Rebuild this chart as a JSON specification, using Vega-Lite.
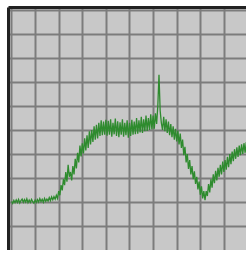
{
  "$schema": "https://vega.github.io/schema/vega-lite/v6.json",
  "autosize": {"type": "none"},
  "padding": {"left": 8, "top": 7, "right": 0, "bottom": 0},
  "width": 241,
  "height": 243,
  "background": "#ffffff",
  "config": {"view": {"fill": "#c8c8c8", "stroke": null}},
  "data": {"values": [
    {"x":0,"y":20.2},{"x":0.5,"y":19.4},{"x":1,"y":20.7},{"x":1.5,"y":19.7},{"x":2,"y":20.9},{"x":2.5,"y":19.8},{"x":3,"y":21.1},{"x":3.5,"y":19.6},{"x":4,"y":20.6},{"x":4.5,"y":21.2},
    {"x":5,"y":19.9},{"x":5.5,"y":21.0},{"x":6,"y":20.0},{"x":6.5,"y":21.3},{"x":7,"y":19.7},{"x":7.5,"y":20.8},{"x":8,"y":19.8},{"x":8.5,"y":21.1},{"x":9,"y":20.1},{"x":9.5,"y":19.5},
    {"x":10,"y":20.8},{"x":10.5,"y":19.8},{"x":11,"y":21.0},{"x":11.5,"y":20.0},{"x":12,"y":21.4},{"x":12.5,"y":20.2},{"x":13,"y":21.1},{"x":13.5,"y":19.9},{"x":14,"y":21.5},{"x":14.5,"y":20.3},
    {"x":15,"y":21.2},{"x":15.5,"y":20.4},{"x":16,"y":21.8},{"x":16.5,"y":20.6},{"x":17,"y":22.1},{"x":17.5,"y":20.9},{"x":18,"y":22.2},{"x":18.5,"y":21.2},{"x":19,"y":22.8},{"x":19.5,"y":21.5},
    {"x":20,"y":24.5},{"x":20.5,"y":22.8},{"x":21,"y":27.0},{"x":21.5,"y":24.8},{"x":22,"y":29.5},{"x":22.5,"y":27.0},{"x":23,"y":32.5},{"x":23.5,"y":28.5},{"x":24,"y":35.5},{"x":24.5,"y":30.5},
    {"x":25,"y":32.5},{"x":25.5,"y":29.0},{"x":26,"y":35.0},{"x":26.5,"y":31.5},{"x":27,"y":38.0},{"x":27.5,"y":34.0},{"x":28,"y":40.5},{"x":28.5,"y":36.5},{"x":29,"y":43.5},{"x":29.5,"y":39.0},
    {"x":30,"y":44.5},{"x":30.5,"y":40.2},{"x":31,"y":46.5},{"x":31.5,"y":41.5},{"x":32,"y":47.8},{"x":32.5,"y":42.5},{"x":33,"y":49.5},{"x":33.5,"y":44.0},{"x":34,"y":50.0},{"x":34.5,"y":45.0},
    {"x":35,"y":51.5},{"x":35.5,"y":46.0},{"x":36,"y":52.2},{"x":36.5,"y":46.5},{"x":37,"y":53.0},{"x":37.5,"y":47.5},{"x":38,"y":54.0},{"x":38.5,"y":47.8},{"x":39,"y":53.5},{"x":39.5,"y":48.0},
    {"x":40,"y":54.2},{"x":40.5,"y":47.6},{"x":41,"y":53.8},{"x":41.5,"y":48.0},{"x":42,"y":54.5},{"x":42.5,"y":47.2},{"x":43,"y":53.0},{"x":43.5,"y":48.2},{"x":44,"y":54.8},{"x":44.5,"y":47.5},
    {"x":45,"y":53.6},{"x":45.5,"y":47.0},{"x":46,"y":53.2},{"x":46.5,"y":48.0},{"x":47,"y":54.5},{"x":47.5,"y":47.2},{"x":48,"y":53.0},{"x":48.5,"y":47.8},{"x":49,"y":54.0},{"x":49.5,"y":46.8},
    {"x":50,"y":53.0},{"x":50.5,"y":47.5},{"x":51,"y":54.2},{"x":51.5,"y":48.0},{"x":52,"y":53.5},{"x":52.5,"y":48.3},{"x":53,"y":55.0},{"x":53.5,"y":48.5},{"x":54,"y":54.0},{"x":54.5,"y":49.0},
    {"x":55,"y":55.5},{"x":55.5,"y":48.8},{"x":56,"y":54.5},{"x":56.5,"y":49.5},{"x":57,"y":56.0},{"x":57.5,"y":49.6},{"x":58,"y":55.0},{"x":58.5,"y":50.0},{"x":59,"y":56.5},{"x":59.5,"y":50.2},
    {"x":60,"y":56.0},{"x":60.5,"y":50.5},{"x":61,"y":57.0},{"x":61.5,"y":52.5},{"x":62,"y":60.0},{"x":62.5,"y":73.0},{"x":63,"y":58.0},{"x":63.5,"y":53.0},{"x":64,"y":50.0},{"x":64.5,"y":55.5},
    {"x":65,"y":49.5},{"x":65.5,"y":54.5},{"x":66,"y":48.8},{"x":66.5,"y":53.5},{"x":67,"y":47.8},{"x":67.5,"y":52.5},{"x":68,"y":47.0},{"x":68.5,"y":51.5},{"x":69,"y":46.0},{"x":69.5,"y":50.5},
    {"x":70,"y":45.2},{"x":70.5,"y":49.8},{"x":71,"y":44.0},{"x":71.5,"y":48.5},{"x":72,"y":42.5},{"x":72.5,"y":46.0},{"x":73,"y":39.5},{"x":73.5,"y":43.0},{"x":74,"y":36.5},{"x":74.5,"y":40.0},
    {"x":75,"y":33.8},{"x":75.5,"y":37.5},{"x":76,"y":31.5},{"x":76.5,"y":35.0},{"x":77,"y":29.5},{"x":77.5,"y":32.8},{"x":78,"y":27.5},{"x":78.5,"y":30.5},{"x":79,"y":25.2},{"x":79.5,"y":28.5},
    {"x":80,"y":23.0},{"x":80.5,"y":26.5},{"x":81,"y":21.5},{"x":81.5,"y":24.5},{"x":82,"y":20.8},{"x":82.5,"y":24.5},{"x":83,"y":22.5},{"x":83.5,"y":27.5},{"x":84,"y":24.0},{"x":84.5,"y":29.5},
    {"x":85,"y":26.0},{"x":85.5,"y":31.5},{"x":86,"y":27.8},{"x":86.5,"y":33.0},{"x":87,"y":29.0},{"x":87.5,"y":34.2},{"x":88,"y":30.5},{"x":88.5,"y":35.5},{"x":89,"y":31.5},{"x":89.5,"y":36.8},
    {"x":90,"y":32.5},{"x":90.5,"y":37.5},{"x":91,"y":33.5},{"x":91.5,"y":38.8},{"x":92,"y":34.5},{"x":92.5,"y":40.0},{"x":93,"y":35.8},{"x":93.5,"y":41.0},{"x":94,"y":37.0},{"x":94.5,"y":42.0},
    {"x":95,"y":38.0},{"x":95.5,"y":42.8},{"x":96,"y":38.8},{"x":96.5,"y":43.5},{"x":97,"y":39.5},{"x":97.5,"y":44.0},{"x":98,"y":40.0},{"x":98.5,"y":44.5},{"x":99,"y":40.5},{"x":99.5,"y":45.0},
    {"x":100,"y":41.2},{"x":100.5,"y":45.0}
  ]},
  "layer": [
    {
      "mark": {"type": "line", "color": "#2e8b2e", "strokeWidth": 1.3, "clip": true},
      "encoding": {
        "x": {"field": "x", "type": "quantitative", "scale": {"domain": [-1.48, 100.64], "nice": false, "zero": false},
          "axis": {"orient": "top", "title": null, "labels": false, "ticks": false, "values": [0,10,20,30,40,50,60,70,80,90,100],
            "grid": true, "gridColor": "#7c7c7c", "gridWidth": 2, "gridOpacity": 1,
            "domain": true, "domainColor": "#222222", "domainWidth": 3}},
        "y": {"field": "y", "type": "quantitative", "scale": {"domain": [0, 101.25], "nice": false, "zero": false},
          "axis": {"orient": "left", "title": null, "labels": false, "ticks": false, "values": [10,20,30,40,50,60,70,80,90,100],
            "grid": true, "gridColor": "#7c7c7c", "gridWidth": 2, "gridOpacity": 1,
            "domain": true, "domainColor": "#222222", "domainWidth": 3}}
      }
    },
    {
      "mark": {"type": "line", "color": "#2e8b2e", "strokeWidth": 1.3, "strokeOpacity": 0, "clip": true},
      "encoding": {
        "x": {"field": "x", "type": "quantitative",
          "axis": {"orient": "bottom", "title": null, "labels": false, "ticks": false, "grid": false,
            "domain": true, "domainColor": "#7a7a7a", "domainWidth": 4, "offset": 5}},
        "y": {"field": "y", "type": "quantitative", "axis": null}
      }
    }
  ],
  "resolve": {"axis": {"x": "independent", "y": "independent"}}
}
